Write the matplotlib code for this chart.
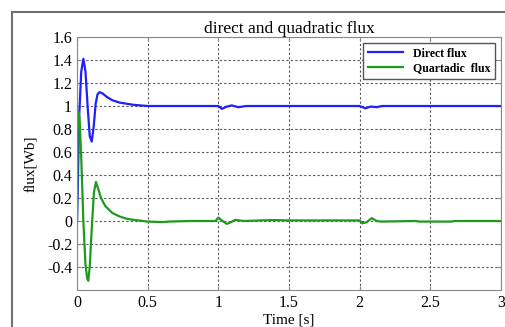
import numpy as np
import matplotlib.pyplot as plt
from matplotlib.patches import Rectangle

# values
t_direct = [0, 0.005, 0.015, 0.03, 0.045, 0.06, 0.075, 0.09, 0.104, 0.118, 0.132, 0.145, 0.158,
            0.18, 0.21, 0.25, 0.3, 0.35, 0.4, 0.45, 0.5, 0.6, 0.8, 1.0, 1.025, 1.06,
            1.095, 1.14, 1.2, 1.4, 1.6, 1.8, 2.0, 2.04, 2.08, 2.12, 2.16, 2.3, 2.6, 2.8, 3.0]
direct_flux = [0.0, 0.25, 0.9, 1.3, 1.41, 1.3, 1.0, 0.74, 0.69, 0.82, 1.02, 1.1, 1.12,
               1.11, 1.08, 1.05, 1.03, 1.02, 1.01, 1.005, 1.0, 1.0, 1.0, 1.0, 0.975, 0.995,
               1.005, 0.99, 1.0, 1.0, 1.0, 1.0, 1.0, 0.98, 0.995, 0.99, 1.0, 1.0, 1.0, 1.0, 1.0]

t_quad = [0, 0.004, 0.01, 0.018, 0.03, 0.045, 0.06, 0.072, 0.08, 0.09, 0.105, 0.12, 0.134,
          0.15, 0.17, 0.2, 0.25, 0.3, 0.35, 0.4, 0.5, 0.6, 0.65, 0.8, 0.98, 1.0, 1.03, 1.06,
          1.09, 1.12, 1.18, 1.3, 1.4, 1.5, 1.7, 1.9, 2.0, 2.02, 2.05, 2.085, 2.12, 2.15,
          2.3, 2.4, 2.42, 2.65, 2.67, 2.9, 3.0]
quad_flux = [0.0, 0.8, 0.95, 0.9, 0.55, 0.0, -0.38, -0.5, -0.52, -0.4, -0.05, 0.25, 0.34,
             0.28, 0.2, 0.13, 0.07, 0.04, 0.02, 0.01, -0.005, -0.01, -0.005, 0.0, 0.0, 0.03,
             0.0, -0.025, -0.01, 0.01, 0.0, 0.005, 0.008, 0.005, 0.005, 0.005, 0.005, -0.02,
             -0.01, 0.025, 0.0, -0.005, -0.002, 0.0, -0.005, -0.005, 0.0, 0.0, 0.0]

y_ticks = [-0.4, -0.2, 0, 0.2, 0.4, 0.6, 0.8, 1, 1.2, 1.4, 1.6]
y_tick_labels = ["-0.4", "-0.2", "0", "0.2", "0.4", "0.6", "0.8", "1", "1.2", "1.4", "1.6"]
x_ticks = [0, 0.5, 1, 1.5, 2, 2.5, 3]
x_tick_labels = ["0", "0.5", "1", "1.5", "2", "2.5", "3"]

plt.rcParams['font.family'] = ['Liberation Serif', 'DejaVu Serif']

fig = plt.figure(figsize=(5.05, 3.27), dpi=100)
ax = fig.add_axes([77 / 505, 1 - 290 / 327, 424 / 505, 253 / 327])

# outer frame around the whole chart
frame = Rectangle((12 / 505, -0.1), 1.1, 1 - 12 / 327 + 0.1, transform=fig.transFigure,
                  fill=False, edgecolor='#707070', linewidth=1.5, clip_on=False)
fig.patches.append(frame)

ax.plot(t_direct, direct_flux, color='#1f1fff', linewidth=1.6, label='Direct flux')
ax.plot(t_quad, quad_flux, color='#1f9a1f', linewidth=1.6, label='Quartadic  flux')

ax.set_xlim(0, 3)
ax.set_ylim(-0.6, 1.6)
ax.set_xticks(x_ticks)
ax.set_xticklabels(x_tick_labels)
ax.set_yticks(y_ticks)
ax.set_yticklabels(y_tick_labels)
ax.tick_params(direction='in', length=3, labelsize=11.5, colors='#888888',
               labelcolor='black', top=True, right=True)
for s in ax.spines.values():
    s.set_color('#888888')
ax.grid(True, color='#555555', linestyle=(0, (2, 2)), linewidth=0.8)

ax.set_title('direct and quadratic flux', fontsize=12.5, pad=3)
ax.set_xlabel('Time [s]', fontsize=11, labelpad=2)
ax.set_ylabel('flux[Wb]', fontsize=11, labelpad=6)

leg = ax.legend(loc='upper right', prop={'weight': 'bold', 'size': 8.5},
                fancybox=False, framealpha=1, edgecolor='#555555',
                borderaxespad=0.5, handlelength=3, borderpad=0.4, labelspacing=0.2)
leg.get_frame().set_linewidth(1.0)

fig.savefig('out.png', dpi=100)
